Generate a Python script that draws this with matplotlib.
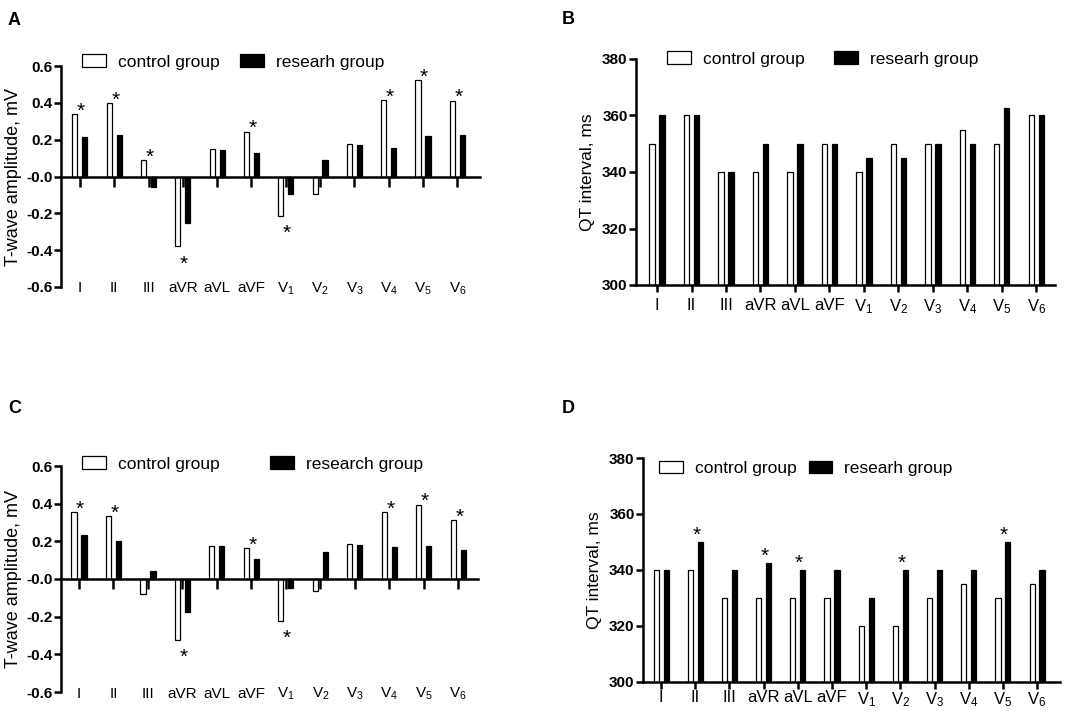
import numpy as np
import matplotlib
matplotlib.use("Agg")
import matplotlib.pyplot as plt

plt.rcParams['font.family'] = ['Liberation Sans', 'DejaVu Sans']
plt.rcParams['axes.unicode_minus'] = False
plt.rcParams['mathtext.default'] = 'regular'

######################################################################
# ECG leads, shared by all four panels
LEADS = ['I', 'II', 'III', 'aVR', 'aVL', 'aVF',
         'V$_1$', 'V$_2$', 'V$_3$', 'V$_4$', 'V$_5$', 'V$_6$']

# Panel A: T-wave amplitude, mV
amp_ctrl_a = [0.34, 0.40, 0.088, -0.38, 0.15, 0.243, -0.214, -0.093, 0.178, 0.414, 0.523, 0.412]
amp_res_a = [0.212, 0.227, -0.055, -0.25, 0.142, 0.127, -0.097, 0.091, 0.172, 0.156, 0.221, 0.225]
star_a = [1, 1, 1, 1, 0, 1, 1, 0, 0, 1, 1, 1]

# Panel B: QT interval, ms
qt_ctrl_b = [350, 360, 340, 340, 340, 350, 340, 350, 350, 355, 350, 360]
qt_res_b = [360, 360, 340, 350, 350, 350, 345, 345, 350, 350, 362.5, 360]
star_b = [0] * 12

# Panel C: T-wave amplitude, mV
amp_ctrl_c = [0.354, 0.334, -0.077, -0.322, 0.175, 0.164, -0.221, -0.063, 0.185, 0.354, 0.395, 0.313]
amp_res_c = [0.235, 0.20, 0.045, -0.176, 0.175, 0.104, -0.047, 0.143, 0.182, 0.171, 0.176, 0.153]
star_c = [1, 1, 0, 1, 0, 1, 1, 0, 0, 1, 1, 1]

# Panel D: QT interval, ms
qt_ctrl_d = [340, 340, 330, 330, 330, 330, 320, 320, 330, 335, 330, 335]
qt_res_d = [340, 350, 340, 342.5, 340, 340, 330, 340, 340, 340, 350, 340]
star_d = [0, 1, 0, 1, 1, 0, 0, 1, 0, 0, 1, 0]

W, H = 1084, 711
BAR_W = 0.15
BAR_OFF = 0.145
SPINE_LW = 1.8


def px_rect(left, top, right, bottom):
    return [left / W, 1 - bottom / H, (right - left) / W, (bottom - top) / H]


def draw_bars(ax, ctrl, res, res_label, stars, up_px, down_px):
    x = np.arange(len(LEADS))
    ax.bar(x - BAR_OFF, ctrl, BAR_W, color='white', edgecolor='black',
           linewidth=0.9, label='control group')
    ax.bar(x + BAR_OFF, res, BAR_W, color='black', edgecolor='black',
           linewidth=0.9, label=res_label)
    for xi, c, r, s in zip(x, ctrl, res, stars):
        if not s:
            continue
        if max(c, r) > 0:
            ax.annotate('*', xy=(xi, max(c, r)), xytext=(1, up_px),
                        textcoords='offset pixels', ha='center', va='baseline',
                        fontsize=15, annotation_clip=False)
        else:
            ax.annotate('*', xy=(xi, min(c, r)), xytext=(1, down_px),
                        textcoords='offset pixels', ha='center', va='baseline',
                        fontsize=15, annotation_clip=False)
    ax.spines[['top', 'right']].set_visible(False)
    for sp in ('left', 'bottom'):
        ax.spines[sp].set_linewidth(SPINE_LW)
    ax.set_xticks(x)
    ax.tick_params(axis='y', length=5, width=SPINE_LW, pad=1)
    return x


def style_legend(ax, anchor, colspace):
    ax.legend(loc='center left', bbox_to_anchor=anchor, ncol=2, frameon=False,
              fontsize=12.5, handlelength=1.38, handleheight=0.7,
              handletextpad=0.69, columnspacing=colspace,
              borderpad=0, borderaxespad=0)


def amp_panel(rect, ctrl, res, res_label, stars, xlim, anchor, colspace):
    ax = fig.add_axes(rect)
    x = draw_bars(ax, ctrl, res, res_label, stars, -2.5, -23)
    ax.set_ylim(-0.6, 0.6)
    ax.set_xlim(*xlim)
    ax.spines['bottom'].set_position(('data', 0))
    ax.tick_params(axis='x', length=7, width=SPINE_LW, labelbottom=False)
    ticks = [-0.6, -0.4, -0.2, 0.0, 0.2, 0.4, 0.6]
    ax.set_yticks(ticks)
    ax.set_yticklabels(['-0.6', '-0.4', '-0.2', '-0.0', '0.2', '0.4', '0.6'],
                       fontsize=11, fontweight='bold')
    for xi, lab in zip(x, LEADS):
        ax.annotate(lab, xy=(xi, 0), xycoords=('data', 'axes fraction'),
                    xytext=(0, -5.5), textcoords='offset pixels',
                    ha='center', va='baseline', fontsize=11,
                    annotation_clip=False)
    ax.set_ylabel('T-wave amplitude, mV', fontsize=13, labelpad=3)
    style_legend(ax, anchor, colspace)
    return ax


def qt_panel(rect, ctrl, res, stars, xlim, anchor, colspace, xpad):
    ax = fig.add_axes(rect)
    draw_bars(ax, ctrl, res, 'researh group', stars, 1.5, -20)
    ax.set_ylim(300, 380)
    ax.set_xlim(*xlim)
    ax.set_yticks([300, 320, 340, 360, 380])
    ax.set_yticklabels(['300', '320', '340', '360', '380'],
                       fontsize=11, fontweight='bold')
    ax.set_xticklabels(LEADS, fontsize=12)
    ax.tick_params(axis='x', length=5, width=SPINE_LW, pad=xpad)
    ax.set_ylabel('QT interval, ms', fontsize=12.5, labelpad=5)
    style_legend(ax, anchor, colspace)
    return ax


fig = plt.figure(figsize=(W / 100, H / 100), dpi=100)

amp_panel(px_rect(61, 66, 480, 287), amp_ctrl_a, amp_res_a, 'researh group',
          star_a, (-0.55, 11.66), (0.05, 1.018), 1.2)
qt_panel(px_rect(636, 59, 1055, 285), qt_ctrl_b, qt_res_b, star_b,
         (-0.61, 11.54), (0.074, 1.0), 1.67, 4)
amp_panel(px_rect(61, 466, 478, 692), amp_ctrl_c, amp_res_c, 'research group',
          star_c, (-0.52, 11.57), (0.05, 1.009), 2.93)
qt_panel(px_rect(643, 458, 1060, 682), qt_ctrl_d, qt_res_d, star_d,
         (-0.53, 11.67), (0.038, 0.955), 0.69, 1)

for lab, lx, ly in [('A', 8, 25), ('B', 562, 24), ('C', 8, 413), ('D', 562, 413)]:
    fig.text(lx / W, 1 - ly / H, lab, fontsize=13, fontweight='bold',
             ha='left', va='baseline')

fig.savefig('out.png', dpi=100)
